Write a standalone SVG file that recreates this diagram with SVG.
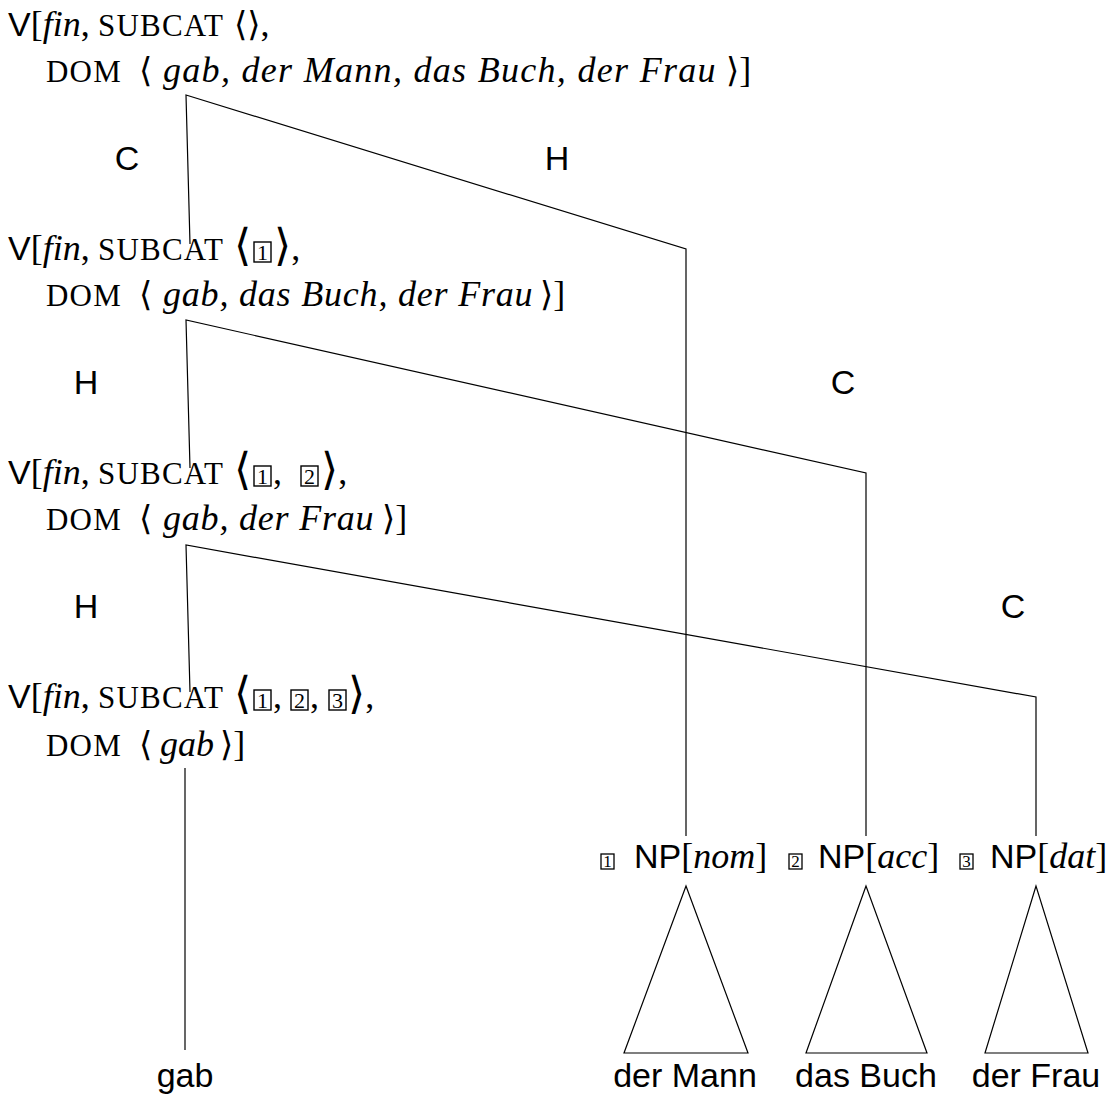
<svg xmlns="http://www.w3.org/2000/svg" width="1115" height="1096" viewBox="0 0 1115 1096">
<style>
text { fill:#000; }
.sans { font-family:"Liberation Sans", Arial, sans-serif; font-size:34px; }
.serif { font-family:"Liberation Serif", "Times New Roman", serif; font-size:36px; }
.it { font-style:italic; letter-spacing:0.8px; }
.fin { font-style:italic; }
.wide { letter-spacing:1.3px; }
.sc { font-size:31px; letter-spacing:1.2px; }
.ang { font-family:"DejaVu Serif", serif; font-size:34px; }
.big { font-family:"DejaVu Serif", serif; font-size:44px; }
.bx { fill:none; stroke:#000; stroke-width:1.4; }
.num { font-family:"Liberation Serif", serif; font-size:22px; text-anchor:middle; }
.bxs { fill:none; stroke:#000; stroke-width:1.3; }
.nums { font-family:"Liberation Serif", serif; font-size:17px; text-anchor:middle; }
.lbl { font-family:"Liberation Sans", Arial, sans-serif; font-size:34px; text-anchor:middle; }
.edge { stroke:#000; stroke-width:1.2; fill:none; }
</style>
<defs>
  <g id="b1"><rect class="bx" x="0" y="-18" width="17" height="20"/><text class="num" x="8.5" y="0">1</text></g>
  <g id="b2"><rect class="bx" x="0" y="-18" width="17" height="20"/><text class="num" x="8.5" y="0">2</text></g>
  <g id="b3"><rect class="bx" x="0" y="-18" width="17" height="20"/><text class="num" x="8.5" y="0">3</text></g>
  <g id="s1"><rect class="bxs" x="0" y="-14" width="13" height="15"/><text class="nums" x="6.5" y="-1">1</text></g>
  <g id="s2"><rect class="bxs" x="0" y="-14" width="13" height="15"/><text class="nums" x="6.5" y="-1">2</text></g>
  <g id="s3"><rect class="bxs" x="0" y="-14" width="13" height="15"/><text class="nums" x="6.5" y="-1">3</text></g>
</defs>

<g id="connectors">
  <polyline class="edge" points="190,244 186,95 686,249 686,836"/>
  <polyline class="edge" points="190,468 186,320 866,473 866,836"/>
  <polyline class="edge" points="190,692 186,545 1036,697 1036,836"/>
  <line class="edge" x1="185" y1="768" x2="185" y2="1050"/>
</g>

<g id="edge-labels">
  <text class="lbl" x="127" y="170">C</text>
  <text class="lbl" x="557" y="170">H</text>
  <text class="lbl" x="86" y="394">H</text>
  <text class="lbl" x="843" y="394">C</text>
  <text class="lbl" x="86" y="618">H</text>
  <text class="lbl" x="1013" y="618">C</text>
</g>

<g id="node-top">
  <text class="serif" y="36"><tspan class="sans" x="8">V</tspan>[<tspan class="fin">fin</tspan>,<tspan class="sc" x="98">SUBCAT</tspan><tspan class="ang" x="234">⟨⟩</tspan>,</text>
  <text class="serif" y="82"><tspan class="sc" x="46">DOM</tspan><tspan class="ang" x="139">⟨</tspan><tspan class="it wide" x="163">gab, der Mann, das Buch, der Frau</tspan><tspan class="ang" x="726">⟩</tspan>]</text>
</g>

<g id="node-2">
  <text class="serif" y="260"><tspan class="sans" x="8">V</tspan>[<tspan class="fin">fin</tspan>,<tspan class="sc" x="98">SUBCAT</tspan><tspan class="big" x="234">⟨</tspan><tspan class="big" x="274">⟩</tspan>,</text>
  <use href="#b1" x="254" y="260"/>
  <text class="serif" y="306"><tspan class="sc" x="46">DOM</tspan><tspan class="ang" x="139">⟨</tspan><tspan class="it" x="163">gab, das Buch, der Frau</tspan><tspan class="ang" x="540">⟩</tspan>]</text>
</g>

<g id="node-3">
  <text class="serif" y="484"><tspan class="sans" x="8">V</tspan>[<tspan class="fin">fin</tspan>,<tspan class="sc" x="98">SUBCAT</tspan><tspan class="big" x="234">⟨</tspan><tspan x="273">,</tspan><tspan class="big" x="321">⟩</tspan>,</text>
  <use href="#b1" x="254" y="484"/>
  <use href="#b2" x="301" y="484"/>
  <text class="serif" y="530"><tspan class="sc" x="46">DOM</tspan><tspan class="ang" x="139">⟨</tspan><tspan class="it" x="163">gab, der Frau</tspan><tspan class="ang" x="382">⟩</tspan>]</text>
</g>

<g id="node-4">
  <text class="serif" y="708"><tspan class="sans" x="8">V</tspan>[<tspan class="fin">fin</tspan>,<tspan class="sc" x="98">SUBCAT</tspan><tspan class="big" x="234">⟨</tspan><tspan x="273">,</tspan><tspan x="310">,</tspan><tspan class="big" x="348">⟩</tspan>,</text>
  <use href="#b1" x="254" y="708"/>
  <use href="#b2" x="291" y="708"/>
  <use href="#b3" x="329" y="708"/>
  <text class="serif" y="756"><tspan class="sc" x="46">DOM</tspan><tspan class="ang" x="139">⟨</tspan><tspan class="fin" x="160">gab</tspan><tspan class="ang" x="220">⟩</tspan>]</text>
</g>

<g id="np-nom">
  <use href="#s1" x="601" y="868"/>
  <text class="serif" y="868"><tspan class="sans" x="634">NP</tspan>[<tspan class="fin">nom</tspan>]</text>
  <polygon class="edge" points="686,886 624,1053 748,1053"/>
</g>
<g id="np-acc">
  <use href="#s2" x="789" y="868"/>
  <text class="serif" y="868"><tspan class="sans" x="818">NP</tspan>[<tspan class="fin">acc</tspan>]</text>
  <polygon class="edge" points="866,886 806,1053 927,1053"/>
</g>
<g id="np-dat">
  <use href="#s3" x="960" y="868"/>
  <text class="serif" y="868"><tspan class="sans" x="990">NP</tspan>[<tspan class="fin">dat</tspan>]</text>
  <polygon class="edge" points="1036,886 985,1053 1088,1053"/>
</g>

<g id="leaves">
  <text class="lbl" x="185" y="1087">gab</text>
  <text class="lbl" x="685" y="1087">der Mann</text>
  <text class="lbl" x="866" y="1087">das Buch</text>
  <text class="lbl" x="1036" y="1087">der Frau</text>
</g>
</svg>
